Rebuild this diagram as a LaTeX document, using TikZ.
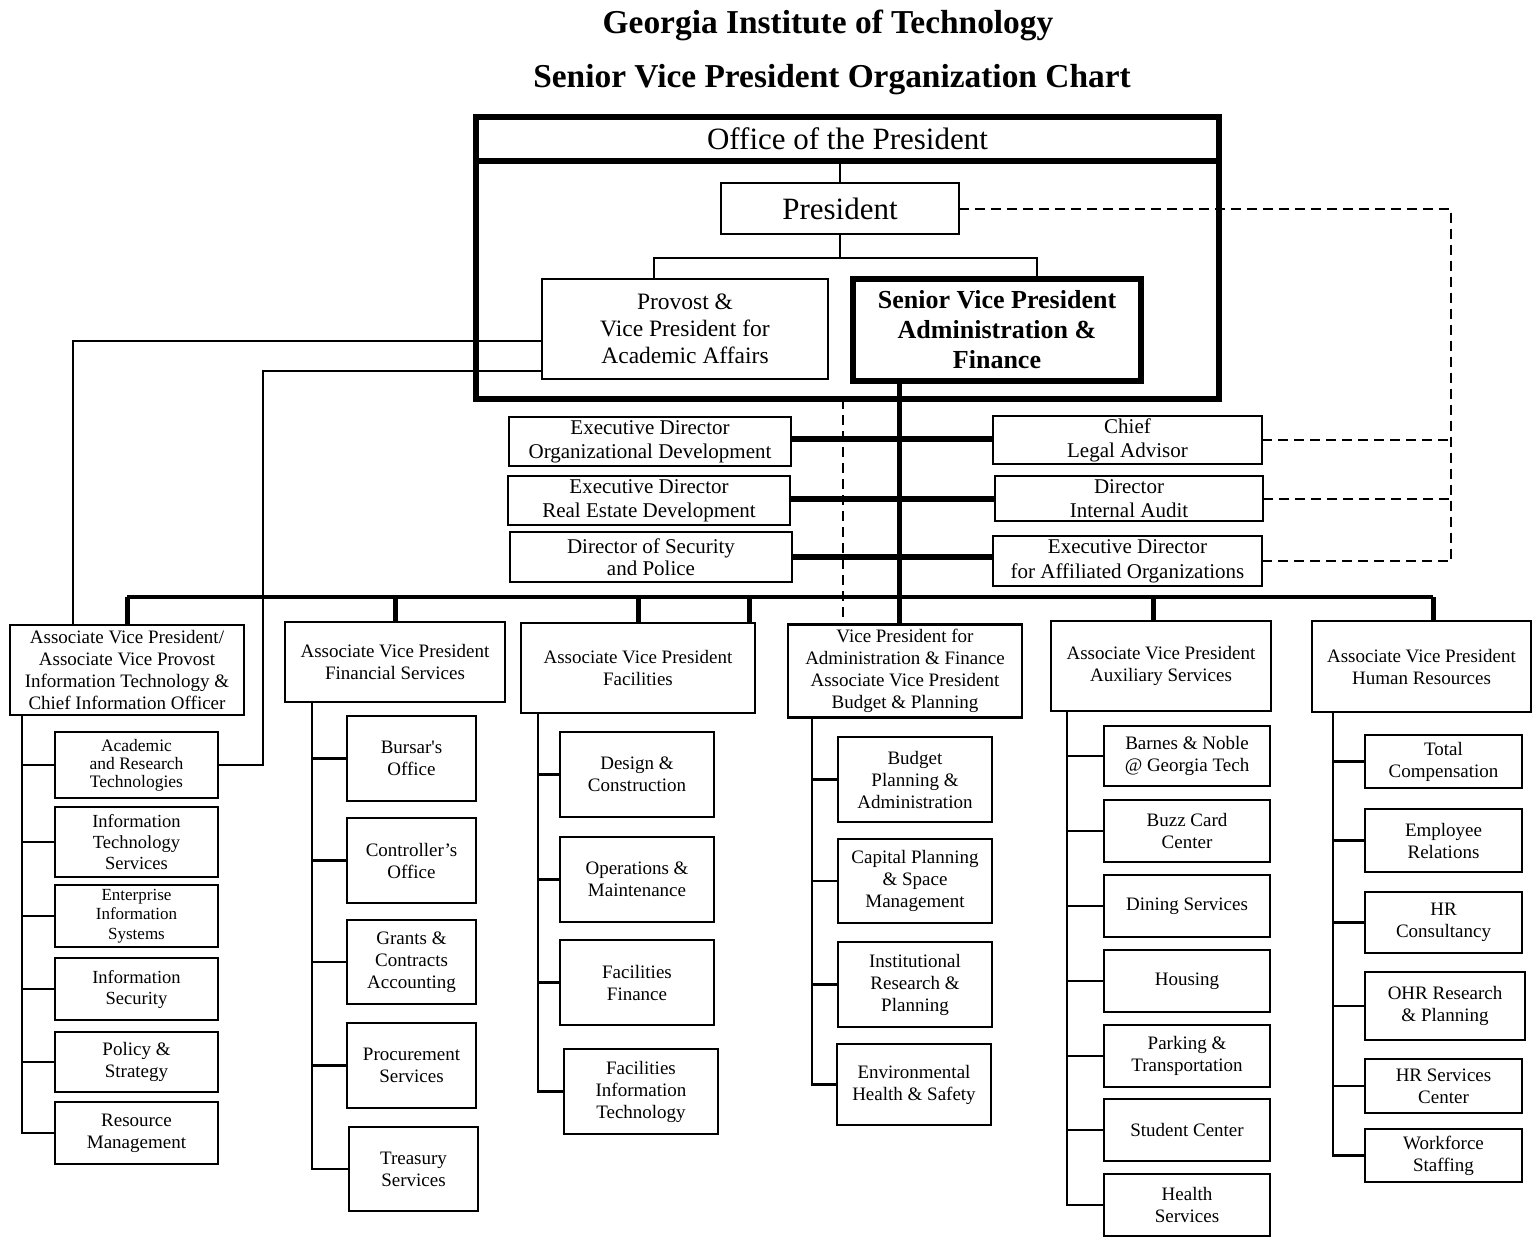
\documentclass[tikz,border=0pt]{standalone}
\usepackage{fontspec}
\setmainfont{Liberation Serif}
\usetikzlibrary{positioning}

\begin{document}
\begin{tikzpicture}[x=1pt,y=-1pt,line join=miter,node distance=12pt]
        \tikzstyle{every node}=[align=center,inner sep=0pt,outer sep=0pt]
        \tikzstyle{link}=[line width=2.3pt]
        \tikzstyle{heavy}=[line width=6pt]
        \tikzstyle{busline}=[line width=4.5pt]
        \tikzstyle{drop}=[line width=5pt]
        \tikzstyle{dashlink}=[line width=2pt,dash pattern=on 10pt off 6pt]
        \tikzstyle{headline}=[font=\bfseries\fontsize{33.4}{38}\selectfont,anchor=base]
        \tikzstyle{unit}=[draw,line width=2.3pt,font=\fontsize{19}{22}\selectfont]
        \tikzstyle{avp}=[unit,minimum width=220pt,minimum height=90pt]
        \tikzstyle{exec}=[unit,font=\fontsize{21}{24}\selectfont,minimum width=282pt,minimum height=49pt]
        \tikzstyle{sub}=[unit,line width=2.6pt]
        \tikzstyle{itcol}=[sub,minimum width=163pt,minimum height=62pt]
        \tikzstyle{fincol}=[sub,minimum width=129pt,minimum height=85pt]
        \tikzstyle{faccol}=[sub,minimum width=154pt,minimum height=85pt]
        \tikzstyle{vpcol}=[sub,minimum width=154pt,minimum height=85pt]
        \tikzstyle{auxcol}=[sub,minimum width=166pt,minimum height=62pt]
        \tikzstyle{hrcol}=[sub,minimum width=157pt,minimum height=61pt]

        \useasboundingbox (0,0) rectangle (1533,1237);

        \node[headline] (gatech)     at (828,33) {Georgia Institute of Technology};
        \node[headline] (charttitle) at (832,87) {Senior Vice President Organization Chart};

        \node[draw,line width=6pt,minimum width=743pt,minimum height=282pt] (office) at (847.5,258) {};
        \node[minimum width=743pt,minimum height=44pt,font=\fontsize{31}{36}\selectfont] (officehead) at (847.5,139) {Office of the President};
        \node[unit,minimum width=238pt,minimum height=51pt,font=\fontsize{31}{36}\selectfont] (president) at (840,208.5) {President};
        \node[unit,minimum width=286pt,minimum height=100pt,font=\fontsize{23.5}{27}\selectfont] (provost) at (685,329) {Provost \&\\Vice President for\\Academic Affairs};
        \node[draw,line width=5.5pt,minimum width=288pt,minimum height=102pt,font=\bfseries\fontsize{26}{30}\selectfont] (svp) at (997,330) {Senior Vice President\\Administration \&\\Finance};

        \node[exec] (edorg)  at (650,441.5) {Executive Director\\Organizational Development};
        \node[exec] (edreal) at (649,500.5) {Executive Director\\Real Estate Development};
        \node[exec,minimum height=50pt,font=\fontsize{21}{22}\selectfont] (dsec) at (651,557) {Director of Security\\and Police};
        \node[exec,minimum width=269pt,minimum height=48pt] (legal) at (1127.5,440) {Chief\\Legal Advisor};
        \node[exec,minimum width=268pt,minimum height=45pt] (audit) at (1129,498.5) {Director\\Internal Audit};
        \node[exec,minimum width=269pt,minimum height=50pt,font=\fontsize{21}{25}\selectfont] (affil) at (1127.5,561) {Executive Director\\for Affiliated Organizations};

        \node[avp,minimum width=234pt] (avpit) at (127,670) {Associate Vice President/\\Associate Vice Provost\\Information Technology \&\\Chief Information Officer};
        \node[avp,minimum height=80pt] (fin)   at (395,662)    {Associate Vice President\\Financial Services};
        \node[avp,minimum width=234pt] (fac)   at (638,668)    {Associate Vice President\\Facilities};
        \node[avp,minimum width=234pt,minimum height=93pt] (vpaf) at (905,671) {Vice President for\\Administration \& Finance\\Associate Vice President\\Budget \& Planning};
        \node[avp] (aux)                       at (1161,666)   {Associate Vice President\\Auxiliary Services};
        \node[avp,minimum width=219pt,minimum height=91pt] (hr) at (1421.5,666.5) {Associate Vice President\\Human Resources};

        \node[itcol,minimum height=66pt,font=\fontsize{17.5}{18}\selectfont] (art) at (136.5,765) {Academic\\and Research\\Technologies};
        \node[itcol,minimum height=70pt,font=\fontsize{18.5}{21}\selectfont] (its)  [below=9pt of art]  {Information\\Technology\\Services};
        \node[itcol,font=\fontsize{17}{19.5}\selectfont]                      (eis)  [below=8pt of its]  {Enterprise\\Information\\Systems};
        \node[itcol,font=\fontsize{18.5}{21}\selectfont]                      (isec) [below=11pt of eis] {Information\\Security};
        \node[itcol,minimum height=60pt]                                      (pol)  [below=12pt of isec] {Policy \&\\Strategy};
        \node[itcol]                                                          (res)  [below=10pt of pol] {Resource\\Management};

        \node[fincol] (bursar) at (411.5,758.5)                 {Bursar\textquotesingle s\\Office};
        \node[fincol] (ctrl)   [below=17pt of bursar]           {Controller’s\\Office};
        \node[fincol,minimum height=84pt] (grants) [below=17pt of ctrl] {Grants \&\\Contracts\\Accounting};
        \node[fincol] (proc)   [below=19pt of grants]           {Procurement\\Services};
        \node[fincol,minimum height=84pt] (treas) [below=19pt of proc,xshift=2pt] {Treasury\\Services};

        \node[faccol] (design) at (637,774.5)                   {Design \&\\Construction};
        \node[faccol] (ops)    [below=20pt of design]           {Operations \&\\Maintenance};
        \node[faccol] (ffin)   [below=18pt of ops]              {Facilities\\Finance};
        \node[faccol] (fit)    [below=24pt of ffin,xshift=4pt]  {Facilities\\Information\\Technology};

        \node[vpcol] (bpa)     at (915,779.5)                   {Budget\\Planning \&\\Administration};
        \node[vpcol,minimum height=84pt] (cap) [below=17pt of bpa] {Capital Planning\\\& Space\\Management};
        \node[vpcol] (inst)    [below=19pt of cap]              {Institutional\\Research \&\\Planning};
        \node[vpcol,minimum height=81pt] (ehs) [below=17pt of inst,xshift=-1pt] {Environmental\\Health \& Safety};

        \node[auxcol,minimum height=60pt] (bn) at (1187,756)    {Barnes \& Noble\\@ Georgia Tech};
        \node[auxcol] (buzz)    [below=14pt of bn]              {Buzz Card\\Center};
        \node[auxcol] (dining)  [below=13pt of buzz]            {Dining Services};
        \node[auxcol] (housing) [below=13pt of dining]          {Housing};
        \node[auxcol] (parking) [below=13pt of housing]         {Parking \&\\Transportation};
        \node[auxcol] (student) [below=12pt of parking]         {Student Center};
        \node[auxcol] (health)  [below=13pt of student]         {Health\\Services};

        \node[hrcol,minimum height=53pt] (total) at (1443.5,761.5) {Total\\Compensation};
        \node[hrcol,minimum height=63pt] (emp)  [below=21pt of total] {Employee\\Relations};
        \node[hrcol] (hrc)                      [below=20pt of emp]   {HR\\Consultancy};
        \node[hrcol,minimum width=160pt,minimum height=68pt] (ohr) [below=19pt of hrc,xshift=1.5pt] {OHR Research\\\& Planning};
        \node[hrcol,minimum height=54pt] (hrsc) [below=19pt of ohr,xshift=-1.5pt] {HR Services\\Center};
        \node[hrcol,minimum height=53pt] (wf)   [below=16pt of hrsc]  {Workforce\\Staffing};

        \coordinate (bus) at (0,597);
        \coordinate (dashx) at (1451,210);

        \draw[heavy] (officehead.south west) -- (officehead.south east);
        \draw[link] (officehead.south -| president.north) -- (president.north);
        \coordinate (fork) at ([yshift=-24pt]president.south);
        \draw[link] (president.south) -- (fork);
        \draw[link] (fork) -| ([xshift=-31pt]provost.north);
        \draw[link] (fork) -| ([xshift=40pt]svp.north);

        \draw[link] ([yshift=-12pt]provost.west) -| ([xshift=-54pt]avpit.north);
        \draw[link] ([yshift=-42pt]provost.west) -| ([xshift=45pt]art.east) -- (art.east);

        \draw[drop] ([xshift=-6pt]vpaf.north |- svp.south) -- ([xshift=-6pt]vpaf.north);
        \draw[heavy] ([yshift=3pt]edorg.east)  -- ([yshift=3pt]edorg.east -| legal.west);
        \draw[heavy] ([yshift=2pt]edreal.east) -- ([yshift=2pt]edreal.east -| audit.west);
        \draw[heavy] (dsec.east)   -- (dsec.east -| affil.west);

        \draw[dashlink] (president.east) -- (president.east -| dashx) -- (dashx |- affil.east) -- (affil.east);
        \draw[dashlink] (legal.east) -- (legal.east -| dashx);
        \draw[dashlink] (audit.east) -- (audit.east -| dashx);
        \draw[dashlink] ([xshift=-62pt]vpaf.north |- office.south) -- ([xshift=-62pt]vpaf.north);

        \draw[busline] (avpit.north |- bus) -- ([xshift=11.5pt]hr.north |- bus);
        \draw[drop] (avpit.north |- bus) -- (avpit.north);
        \draw[drop] (fin.north |- bus) -- (fin.north);
        \draw[drop] (fac.north |- bus) -- (fac.north);
        \draw[drop] ([xshift=111pt]fac.north |- bus) -- ([xshift=111pt]fac.north);
        \draw[drop] ([xshift=-8pt]aux.north |- bus) -- ([xshift=-8pt]aux.north);
        \draw[drop] ([xshift=11.5pt]hr.north |- bus) -- ([xshift=11.5pt]hr.north);

        \coordinate (itspine)  at ([xshift=-105pt]avpit.south);
        \coordinate (finspine) at ([xshift=-83pt]fin.south);
        \coordinate (facspine) at ([xshift=-100pt]fac.south);
        \coordinate (bgspine)  at ([xshift=-93pt]vpaf.south);
        \coordinate (auxspine) at ([xshift=-94pt]aux.south);
        \coordinate (hrspine)  at ([xshift=-88.5pt]hr.south);

        \draw[link] (itspine) |- (res.west);
        \foreach \n in {art,its,eis,isec,pol} \draw[link] (itspine |- \n.west) -- (\n.west);
        \draw[link] (finspine) |- (treas.west);
        \foreach \n in {bursar,ctrl,grants,proc} \draw[link] (finspine |- \n.west) -- (\n.west);
        \draw[link] (facspine) |- (fit.west);
        \foreach \n in {design,ops,ffin} \draw[link] (facspine |- \n.west) -- (\n.west);
        \draw[link] (bgspine) |- (ehs.west);
        \foreach \n in {bpa,cap,inst} \draw[link] (bgspine |- \n.west) -- (\n.west);
        \draw[link] (auxspine) |- (health.west);
        \foreach \n in {bn,buzz,dining,housing,parking,student} \draw[link] (auxspine |- \n.west) -- (\n.west);
        \draw[link] (hrspine) |- (wf.west);
        \foreach \n in {total,emp,hrc,ohr,hrsc} \draw[link] (hrspine |- \n.west) -- (\n.west);
\end{tikzpicture}
\end{document}
